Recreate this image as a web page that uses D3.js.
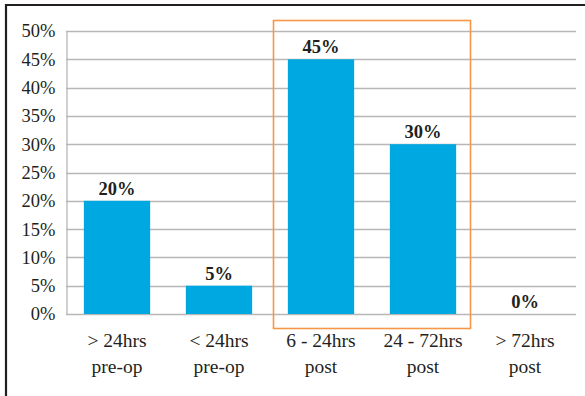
<!DOCTYPE html>
<html>
<head>
<meta charset="utf-8">
<script src="https://cdn.jsdelivr.net/npm/d3@7"></script>
<style>
  html, body { margin: 0; padding: 0; background: #fff; }
  svg { display: block; }
  text { font-family: "Palatino Linotype", "Book Antiqua", Palatino, "Liberation Serif", "DejaVu Serif", serif; fill: #231f20; }
</style>
</head>
<body>
<script>
// Timing of administration vs. share of cases
const categories = [["> 24hrs", "pre-op"], ["< 24hrs", "pre-op"], ["6 - 24hrs", "post"], ["24 - 72hrs", "post"], ["> 72hrs", "post"]];
const values = [20, 5, 45, 30, 0];
const yTicks = [0, 5, 10, 15, 20, 25, 30, 35, 40, 45, 50];
const highlighted = [2, 3]; // categories enclosed by the orange frame

const W = 585, H = 396;
const margin = { left: 66, right: 9, top: 31, bottom: 82 };
const serif = "\"Palatino Linotype\", \"Book Antiqua\", Palatino, \"Liberation Serif\", serif";

const svg = d3.select("body").append("svg").attr("width", W).attr("height", H);

// outer frame (top and left edges)
svg.append("line").attr("x1", 5).attr("x2", W).attr("y1", 5).attr("y2", 5)
  .attr("stroke", "#231f20").attr("stroke-width", 2.2);
svg.append("line").attr("x1", 6).attr("x2", 6).attr("y1", 4).attr("y2", H)
  .attr("stroke", "#231f20").attr("stroke-width", 2.2);

const x = d3.scaleBand().domain(d3.range(categories.length))
  .range([margin.left, W - margin.right]).paddingInner(0.35).paddingOuter(0.175);
const y = d3.scaleLinear().domain([0, 50]).range([H - margin.bottom, margin.top]);

// horizontal gridlines
svg.append("g").selectAll("line").data(yTicks).join("line")
  .attr("x1", margin.left).attr("x2", W - margin.right)
  .attr("y1", d => Math.round(y(d)) + 0.5).attr("y2", d => Math.round(y(d)) + 0.5)
  .attr("stroke", "#b7b7b7").attr("stroke-width", 1.3);

// value axis
const yAxis = d3.axisLeft(y).tickValues(yTicks).tickFormat(d => d + "%").tickSize(0).tickPadding(11);
const gy = svg.append("g").attr("transform", `translate(${margin.left + 0.5},0)`).call(yAxis);
gy.select(".domain").attr("stroke", "#b7b7b7").attr("stroke-width", 1.3);
gy.selectAll("text").attr("font-size", 18.5).attr("fill", "#231f20").attr("font-family", serif);

// bars
svg.append("g").selectAll("rect").data(values).join("rect")
  .attr("x", (d, i) => x(i)).attr("width", x.bandwidth())
  .attr("y", d => y(d)).attr("height", d => y(0) - y(d))
  .attr("fill", "#00a8e2");

// value labels
svg.append("g").selectAll("text").data(values).join("text")
  .attr("x", (d, i) => x(i) + x.bandwidth() / 2)
  .attr("y", d => y(d) - 6)
  .attr("text-anchor", "middle").attr("font-weight", "bold").attr("font-size", 18.5)
  .text(d => d + "%");

// category labels (two lines)
const step = x.step();
const catG = svg.append("g").selectAll("text").data(categories).join("text")
  .attr("text-anchor", "middle").attr("font-size", 19.5)
  .attr("x", (d, i) => x(i) + x.bandwidth() / 2)
  .attr("y", y(0) + 33);
catG.selectAll("tspan").data(d => d).join("tspan")
  .attr("x", function () { return d3.select(this.parentNode).attr("x"); })
  .attr("dy", (d, j) => j === 0 ? 0 : 26)
  .text(d => d);

// orange frame around highlighted categories
const x0 = x(highlighted[0]) - (step - x.bandwidth()) / 2 + 3;
const x1 = x(highlighted[highlighted.length - 1]) + x.bandwidth() + (step - x.bandwidth()) / 2 - 4;
svg.append("rect")
  .attr("x", x0 + 0.5).attr("y", y(50) - 11 + 0.5)
  .attr("width", x1 - x0).attr("height", (y(0) + 14) - (y(50) - 11))
  .attr("fill", "none").attr("stroke", "#f79646").attr("stroke-width", 1.6);
</script>
</body>
</html>
